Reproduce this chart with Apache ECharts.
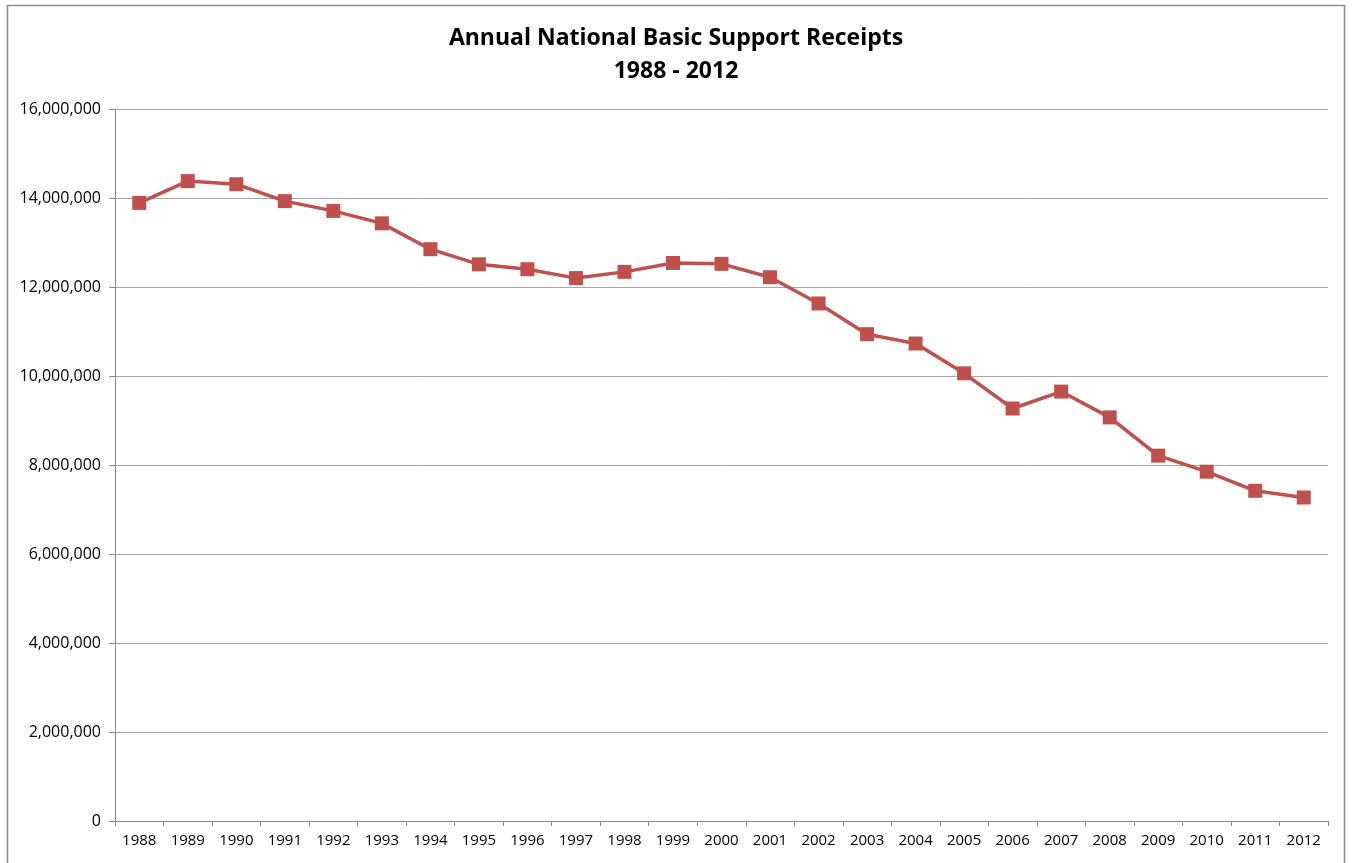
<!DOCTYPE html>
<html>
<head>
<meta charset="utf-8">
<script src="https://cdn.jsdelivr.net/npm/echarts@6/dist/echarts.min.js"></script>
<style>html,body{margin:0;padding:0;background:#fff;}#main{width:1352px;height:863px;}</style>
</head>
<body>
<div id="main"></div>
<script>
const years = ['1988','1989','1990','1991','1992','1993','1994','1995','1996','1997','1998','1999','2000','2001','2002','2003','2004','2005','2006','2007','2008','2009','2010','2011','2012'];
const receipts = [13890000,14380000,14310000,13930000,13710000,13430000,12850000,12510000,12400000,12200000,12340000,12540000,12520000,12220000,11630000,10940000,10730000,10060000,9270000,9650000,9070000,8210000,7850000,7420000,7270000];
const titleLines = ['Annual National Basic Support Receipts', '1988 - 2012'];

const chart = echarts.init(document.getElementById('main'));
chart.setOption({
  animation: false,
  backgroundColor: '#fff',
  graphic: [{
    type: 'rect',
    shape: { x: 7.5, y: 5.5, width: 1337, height: 880 },
    style: { fill: 'none', stroke: '#8c8c8c', lineWidth: 1.5 },
    silent: true
  }],
  title: {
    text: titleLines.join('\n'),
    left: 'center',
    top: 17,
    textStyle: { fontFamily: 'Open Sans', fontWeight: 'bold', fontSize: 23, lineHeight: 33, color: '#000' }
  },
  grid: { left: 115, right: 24, top: 109, bottom: 42, containLabel: false },
  xAxis: {
    type: 'category',
    data: years,
    boundaryGap: true,
    axisLine: { lineStyle: { color: '#888', width: 1 } },
    axisTick: { show: true, length: 5, interval: 0, lineStyle: { color: '#888' } },
    axisLabel: { interval: 0, color: '#000', fontFamily: 'Open Sans', fontSize: 15, margin: 12 }
  },
  yAxis: {
    type: 'value',
    min: 0,
    max: 16000000,
    interval: 2000000,
    axisLine: { show: true, lineStyle: { color: '#888', width: 1 } },
    axisTick: { show: true, length: 6, lineStyle: { color: '#888' } },
    splitLine: { lineStyle: { color: '#a6a6a6', width: 1 } },
    axisLabel: {
      color: '#000', fontFamily: 'Open Sans', fontSize: 16, margin: 14,
      formatter: v => v.toLocaleString('en-US')
    }
  },
  series: [{
    type: 'line',
    data: receipts,
    symbol: 'rect',
    symbolSize: 14,
    lineStyle: { color: '#C0504D', width: 3.5 },
    itemStyle: { color: '#C0504D' },
    z: 3
  }]
});
</script>
</body>
</html>
